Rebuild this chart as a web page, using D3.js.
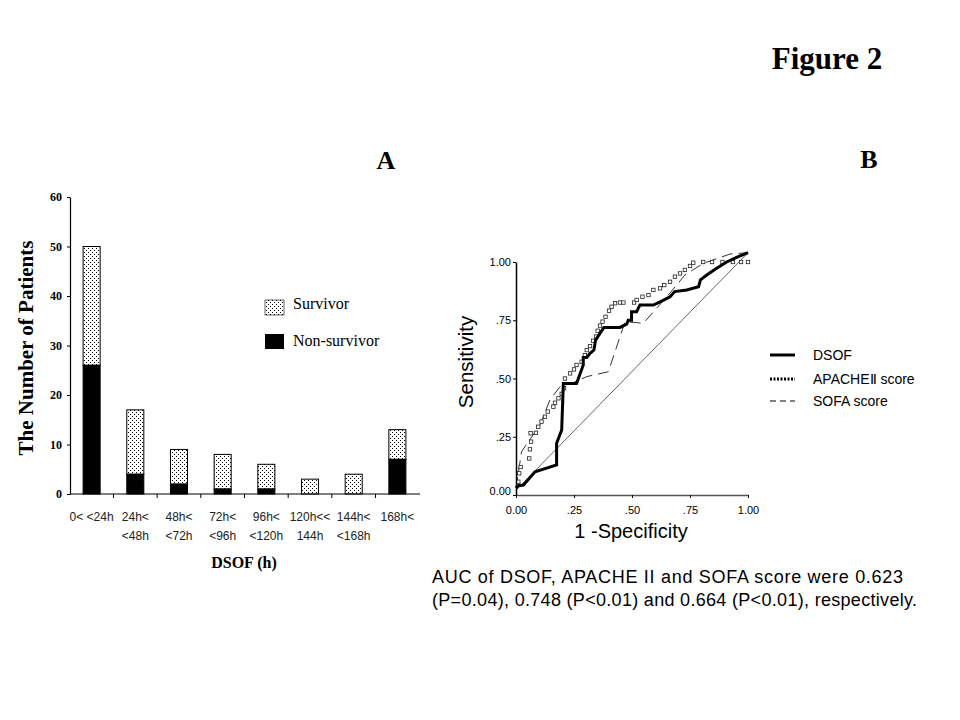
<!DOCTYPE html>
<html><head><meta charset="utf-8">
<script src="https://cdn.jsdelivr.net/npm/d3@7"></script>
<style>body{margin:0;background:#fff}svg{display:block}</style>
</head><body>
<svg id="c" width="960" height="720"></svg>
<script>
// ---- Panel A data ----
const categories = ["0-24","24-48","48-72","72-96","96-120","120-144","144-168","168+"];
const catLine1 = ["0< <24h","24h<","48h<","72h<","96h<","120h<<","144h<","168h<"];
const catLine2 = ["","<48h","<72h","<96h","<120h","144h","<168h",""];
const nonSurvivor = [26,4,2,1,1,0,0,7];
const survivor = [24,13,7,7,5,3,4,6];
const yTicksA = [0,10,20,30,40,50,60];

// ---- Panel B data (ROC) ----
const dsofX = [0,0.01,0.032,0.082,0.175,0.175,0.197,0.204,0.261,0.29,0.29,0.305,0.319,0.336,0.343,0.357,0.379,0.448,0.477,0.484,0.498,0.498,0.52,0.534,0.592,0.621,0.664,0.684,0.736,0.787,0.795,0.822,0.865,0.908,0.951,1.0];
const dsofY = [0.03,0.04,0.043,0.10,0.129,0.222,0.279,0.479,0.479,0.558,0.59,0.59,0.608,0.622,0.665,0.686,0.719,0.719,0.733,0.75,0.75,0.787,0.787,0.815,0.815,0.829,0.851,0.873,0.88,0.894,0.923,0.944,0.973,1.0,1.02,1.04];
const sofaX = [0,0.024,0.103,0.147,0.19,0.246,0.305,0.398,0.47,0.549,0.65,0.728,0.807,0.922,1.0];
const sofaY = [0.03,0.186,0.30,0.41,0.465,0.482,0.508,0.529,0.744,0.737,0.851,0.944,0.994,1.034,1.04];
const apacheX = [0.01,0.014,0.02,0.057,0.06,0.065,0.063,0.086,0.096,0.11,0.125,0.137,0.161,0.168,0.183,0.197,0.207,0.211,0.233,0.25,0.261,0.283,0.297,0.305,0.319,0.333,0.345,0.352,0.362,0.373,0.386,0.401,0.412,0.427,0.448,0.463,0.509,0.52,0.545,0.571,0.592,0.621,0.639,0.664,0.685,0.707,0.728,0.75,0.764,0.807,0.845,0.89,0.935,0.97,1.0];
const apacheY = [0.057,0.093,0.12,0.157,0.196,0.229,0.265,0.267,0.293,0.315,0.336,0.358,0.379,0.396,0.415,0.434,0.458,0.5,0.522,0.539,0.558,0.572,0.6,0.622,0.639,0.662,0.68,0.705,0.727,0.744,0.765,0.791,0.808,0.823,0.826,0.826,0.826,0.837,0.851,0.858,0.88,0.887,0.901,0.915,0.937,0.951,0.966,0.983,0.997,1.0,1.0,1.0,1.0,1.0,1.0];
const refX = [0,1];
const refY = [0.02,1.04];
const rocTicks = [0,0.25,0.5,0.75,1];
const rocTickLabels = ["0.00",".25",".50",".75","1.00"];
const legendB = ["DSOF","APACHEⅡ score","SOFA score"];

const svg = d3.select("#c");
const serif = "'Liberation Serif','Times New Roman',serif";
const sans = "'Liberation Sans',Arial,sans-serif";
const narrow = "'Liberation Sans Narrow','Arial Narrow','Liberation Sans',sans-serif";

// pattern
const defs = svg.append("defs");
const pat = defs.append("pattern").attr("id","dots").attr("width",4).attr("height",4).attr("patternUnits","userSpaceOnUse");
pat.append("rect").attr("width",4).attr("height",4).attr("fill","#fff");
pat.append("rect").attr("x",0).attr("y",0).attr("width",1).attr("height",1).attr("fill","#000");
pat.append("rect").attr("x",2).attr("y",2).attr("width",1).attr("height",1).attr("fill","#000");

// titles
svg.append("text").attr("x",827).attr("y",69).attr("text-anchor","middle").attr("font-family",serif).attr("font-weight","bold").attr("font-size",31).text("Figure 2");
svg.append("text").attr("x",386).attr("y",169).attr("text-anchor","middle").attr("font-family",serif).attr("font-weight","bold").attr("font-size",26).text("A");
svg.append("text").attr("x",869).attr("y",168).attr("text-anchor","middle").attr("font-family",serif).attr("font-weight","bold").attr("font-size",26).text("B");

// ---- Panel A ----
const xA = d3.scaleBand().domain(categories).range([70,419]).paddingInner(0.61).paddingOuter(0.3);
const yA = d3.scaleLinear().domain([0,60]).range([494,197]);
const gA = svg.append("g");
const stackData = categories.map((c,i)=>({c, non:nonSurvivor[i], surv:survivor[i]}));
gA.selectAll("rect.surv").data(stackData).join("rect").attr("class","surv")
  .attr("x",d=>xA(d.c)).attr("width",xA.bandwidth())
  .attr("y",d=>yA(d.non+d.surv)).attr("height",d=>yA(d.non)-yA(d.non+d.surv))
  .attr("fill","url(#dots)").attr("stroke","#000").attr("stroke-width",1);
gA.selectAll("rect.non").data(stackData.filter(d=>d.non>0)).join("rect").attr("class","non")
  .attr("x",d=>xA(d.c)).attr("width",xA.bandwidth())
  .attr("y",d=>yA(d.non)).attr("height",d=>yA(0)-yA(d.non))
  .attr("fill","#000").attr("stroke","#000");
// y axis
const yAxA = gA.append("g").attr("transform","translate(70,0)")
  .call(d3.axisLeft(yA).tickValues(yTicksA).tickSize(3).tickSizeOuter(0));
yAxA.selectAll("text").attr("font-family",serif).attr("font-weight","bold").attr("font-size",12).attr("fill","#000").attr("x",-8);
yAxA.select(".domain").attr("stroke","#000").attr("stroke-width",1.2);
// x axis with boundary ticks
gA.append("line").attr("x1",70).attr("x2",420).attr("y1",494).attr("y2",494).attr("stroke","#000").attr("stroke-width",1.2);
const bounds = categories.slice(1).map(c=>xA(c)-xA.step()*xA.paddingInner()/2);
gA.selectAll("line.bt").data(bounds).join("line").attr("class","bt")
  .attr("x1",d=>d).attr("x2",d=>d).attr("y1",494).attr("y2",498).attr("stroke","#000");
gA.selectAll("text.l1").data(categories).join("text").attr("class","l1")
  .attr("x",(d)=>xA(d)+xA.bandwidth()/2).attr("y",521).attr("text-anchor","middle")
  .attr("font-family",narrow).attr("font-size",12).attr("fill","#222").text((d,i)=>catLine1[i]);
gA.selectAll("text.l2").data(categories).join("text").attr("class","l2")
  .attr("x",(d)=>xA(d)+xA.bandwidth()/2).attr("y",540).attr("text-anchor","middle")
  .attr("font-family",narrow).attr("font-size",12).attr("fill","#222").text((d,i)=>catLine2[i]);
gA.append("text").attr("x",244).attr("y",568).attr("text-anchor","middle").attr("font-family",serif).attr("font-weight","bold").attr("font-size",16).text("DSOF (h)");
gA.append("text").attr("transform","translate(33,348) rotate(-90)").attr("text-anchor","middle").attr("font-family",serif).attr("font-weight","bold").attr("font-size",21).text("The Number  of Patients");
// legend A
gA.append("rect").attr("x",265).attr("y",300).attr("width",19).attr("height",15).attr("fill","url(#dots)").attr("stroke","#000").attr("stroke-width",0.6);
gA.append("text").attr("x",293).attr("y",309).attr("font-family",serif).attr("font-size",16).text("Survivor");
gA.append("rect").attr("x",265).attr("y",334).attr("width",19).attr("height",15).attr("fill","#000");
gA.append("text").attr("x",293).attr("y",346).attr("font-family",serif).attr("font-size",16).text("Non-survivor");

// ---- Panel B ----
const xB = d3.scaleLinear().domain([0,1]).range([516,748]);
const yB = d3.scaleLinear().domain([0,1]).range([495,262]);
const gB = svg.append("g");
const line = d3.line().x(d=>xB(d[0])).y(d=>yB(d[1]));
gB.append("path").datum(refX.map((x,i)=>[x,refY[i]])).attr("d",line).attr("fill","none").attr("stroke","#555").attr("stroke-width",0.9);
gB.append("path").datum(sofaX.map((x,i)=>[x,sofaY[i]])).attr("d",line).attr("fill","none").attr("stroke","#333").attr("stroke-width",1).attr("stroke-dasharray","11,6");
gB.selectAll("rect.ap").data(apacheX.map((x,i)=>[x,apacheY[i]])).join("rect").attr("class","ap")
  .attr("x",d=>xB(d[0])-1.7).attr("y",d=>yB(d[1])-1.7).attr("width",3.4).attr("height",3.4)
  .attr("fill","#fff").attr("stroke","#222").attr("stroke-width",0.8);
gB.append("path").datum(dsofX.map((x,i)=>[x,dsofY[i]])).attr("d",line).attr("fill","none").attr("stroke","#000").attr("stroke-width",3).attr("stroke-linejoin","miter");
// axes
const xAxB = gB.append("g").attr("transform","translate(0,495)").call(d3.axisBottom(xB).tickValues(rocTicks).tickFormat((d,i)=>rocTickLabels[i]).tickSize(3).tickSizeOuter(0));
xAxB.select(".domain").attr("stroke","#555").attr("stroke-width",1.6);
xAxB.selectAll("text").attr("font-family",sans).attr("font-size",11).attr("fill","#000").attr("y",11);
const yAxB = gB.append("g").attr("transform","translate(516,0)").call(d3.axisLeft(yB).tickValues(rocTicks).tickFormat((d,i)=>rocTickLabels[i]).tickSize(3).tickSizeOuter(0));
yAxB.select(".domain").attr("stroke","#000").attr("stroke-width",1.5);
yAxB.selectAll("text").attr("font-family",sans).attr("font-size",11).attr("fill","#000").attr("x",-5);
yAxB.selectAll(".tick").filter(d=>d===0).select("text").attr("dy","-0.05em");
gB.append("text").attr("x",631).attr("y",538).attr("text-anchor","middle").attr("font-family",sans).attr("font-size",20).text("1 -Specificity");
gB.append("text").attr("transform","translate(473,362) rotate(-90)").attr("text-anchor","middle").attr("font-family",sans).attr("font-size",20.5).text("Sensitivity");
// legend B
const lgY = [355,379,401];
const lgStyle = [{w:3,d:null},{w:3,d:"2,1.5"},{w:1,d:"6,4"}];
legendB.forEach((t,i)=>{
  gB.append("line").attr("x1",770).attr("x2",795).attr("y1",lgY[i]).attr("y2",lgY[i]).attr("stroke","#000").attr("stroke-width",lgStyle[i].w).attr("stroke-dasharray",lgStyle[i].d);
  gB.append("text").attr("x",813).attr("y",lgY[i]+5).attr("font-family",sans).attr("font-size",14).text(t);
});

// caption
const cap = svg.append("g").attr("font-family",sans).attr("font-size",18);
cap.append("text").attr("x",432).attr("y",583).attr("textLength",471).attr("lengthAdjust","spacing").text("AUC of DSOF, APACHE II and SOFA score were 0.623");
cap.append("text").attr("x",432).attr("y",606).attr("textLength",485).attr("lengthAdjust","spacing").text("(P=0.04), 0.748 (P<0.01) and 0.664 (P<0.01), respectively.");
</script>
</body></html>
